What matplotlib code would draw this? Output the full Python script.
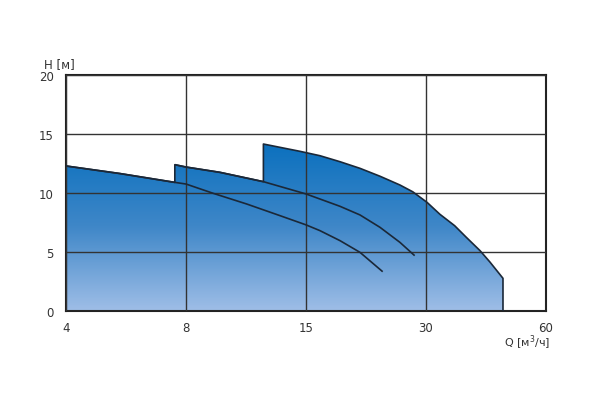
import numpy as np
import matplotlib
matplotlib.use("Agg")
import matplotlib.pyplot as plt
from matplotlib.colors import LinearSegmentedColormap

# tick values on the flow axis (drawn equally spaced, log between ticks)
q_ticks = [4, 8, 15, 30, 60]
h_ticks = [0, 5, 10, 15, 20]

# curve 1 (smallest impeller)
q1 = [4.0, 5.46, 7.5, 8.0, 9.23, 10.99, 13.09, 15.0, 16.26, 18.26, 20.49, 23.36]
h1 = [12.29, 11.65, 10.9, 10.76, 9.97, 9.07, 8.08, 7.3, 6.81, 5.96, 4.97, 3.33]
# curve 2
q2 = [7.5, 8.0, 9.56, 12.0, 15.0, 16.26, 18.26, 20.49, 23.0, 25.8, 28.1]
h2 = [12.4, 12.2, 11.75, 10.96, 9.92, 9.49, 8.87, 8.14, 7.09, 5.82, 4.69]
# curve 3 (largest impeller)
q3 = [12.0, 14.54, 16.26, 18.26, 20.49, 23.0, 25.8, 27.8, 30.2, 32.5, 35.4,
      37.8, 41.0, 43.4, 46.8]
h3 = [14.15, 13.53, 13.16, 12.65, 12.09, 11.42, 10.68, 10.1, 9.2, 8.2, 7.23,
      6.27, 5.11, 4.15, 2.77]

log_t = np.log(q_ticks)
idx = np.arange(len(q_ticks))


def fwd(q):
    q = np.clip(np.asarray(q, dtype=float), 1e-6, None)
    return np.interp(np.log(q), log_t, idx)


def inv(p):
    return np.exp(np.interp(np.asarray(p, dtype=float), idx, log_t))


fig = plt.figure(figsize=(5.92, 4.02), dpi=100)
ax = fig.add_axes([66 / 592, 90 / 402, 480 / 592, 236 / 402])
ax.set_xscale("function", functions=(fwd, inv))
ax.set_xlim(4, 60)
ax.set_ylim(0, 20)

# envelope: each curve until the next (bigger) one starts
start2, start3 = q2[0], q3[0]
env = [(q, h) for q, h in zip(q1, h1) if q <= start2]
env += [(q, h) for q, h in zip(q2, h2) if q <= start3]
env += list(zip(q3, h3))
env_q = [p[0] for p in env]
env_h = [p[1] for p in env]
poly_q = env_q + [q3[-1], q1[0]]
poly_h = env_h + [0, 0]

fill = ax.fill(poly_q, poly_h, facecolor="none", edgecolor="none")[0]
cmap = LinearSegmentedColormap.from_list("pump", ["#9fbee7", "#3f87c8", "#0a70be"])
grad = np.linspace(0, 1, 256).reshape(-1, 1)
im = ax.imshow(grad, cmap=cmap, origin="lower", aspect="auto",
               extent=(0, 1, 0, 14.3 / 20), transform=ax.transAxes, zorder=1)
im.set_clip_path(fill)

line_kw = dict(color="#1b2838", lw=1.2, zorder=3, solid_capstyle="butt")
ax.plot(env_q + [q3[-1]], env_h + [0], **line_kw)
ax.plot(q1, h1, **line_kw)
ax.plot(q2, h2, **line_kw)

ax.set_xticks(q_ticks)
ax.set_xticklabels([str(t) for t in q_ticks])
ax.xaxis.set_minor_locator(plt.NullLocator())
ax.set_yticks(h_ticks)
ax.grid(True, color="#333333", lw=1.0, zorder=2)
ax.set_axisbelow(False)
for s in ax.spines.values():
    s.set_linewidth(1.5)
    s.set_color("#222222")
ax.tick_params(length=0, labelsize=8.5, colors="#333333", pad=7)
ax.tick_params(axis="y", pad=9)

fig.text(44 / 592, 1 - 65 / 402, "H [м]", fontsize=8.5, color="#333333", va="center")
fig.text(550 / 592, 1 - 343 / 402, "Q [м$^3$/ч]", fontsize=8, color="#333333",
         va="center", ha="right")

fig.savefig("out.png", dpi=100)
